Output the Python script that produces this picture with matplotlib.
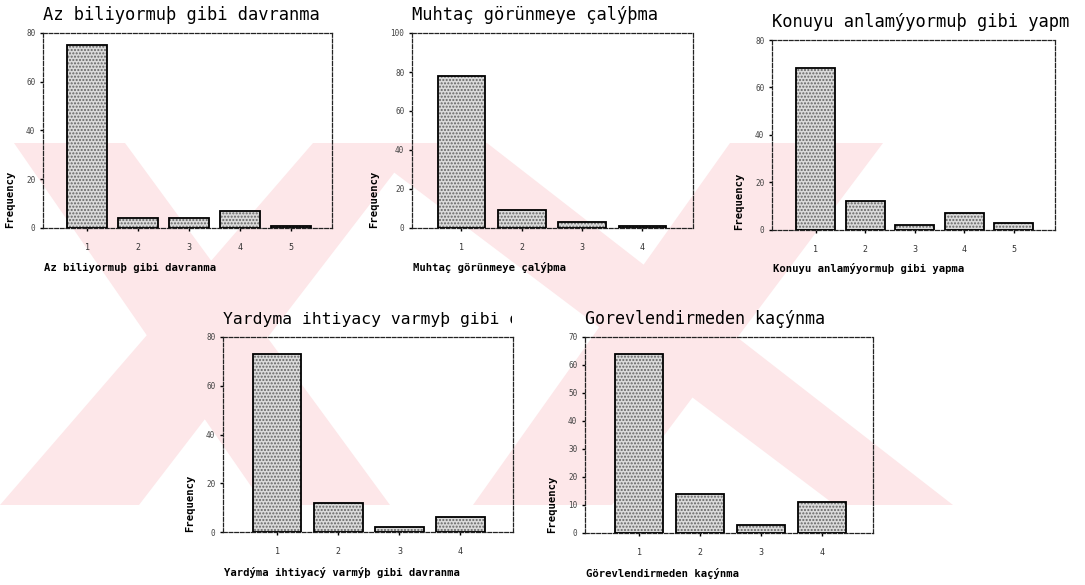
import matplotlib
matplotlib.use('Agg')
import matplotlib.pyplot as plt
from matplotlib.patches import Polygon
from matplotlib.transforms import Bbox, TransformedBbox

W, H = 1085, 585

# frequency tables, one per item
az_cats = ['1', '2', '3', '4', '5']
az_vals = [75, 4, 4, 7, 1]

muhtac_cats = ['1', '2', '3', '4']
muhtac_vals = [78, 9, 3, 1]

konu_cats = ['1', '2', '3', '4', '5']
konu_vals = [68, 12, 2, 7, 3]

yardim_cats = ['1', '2', '3', '4']
yardim_vals = [73, 12, 2, 6]

gorev_cats = ['1', '2', '3', '4']
gorev_vals = [64, 14, 3, 11]

titles = ['Az biliyormuþ gibi davranma',
          'Muhtaç görünmeye çalýþma',
          'Konuyu anlamýyormuþ gibi yapm',
          'Yardyma ihtiyacy varmyþ gibi d',
          'Gorevlendirmeden kaçýnma']
xlabels = ['Az biliyormuþ gibi davranma',
           'Muhtaç görünmeye çalýþma',
           'Konuyu anlamýyormuþ gibi yapma',
           'Yardýma ihtiyacý varmýþ gibi davranma',
           'Görevlendirmeden kaçýnma']

MONO = 'DejaVu Sans Mono'


def px_box(left, top, right, bottom):
    # pixel box (origin top-left) -> figure fraction rect
    return [left / W, 1 - bottom / H, (right - left) / W, (bottom - top) / H]


fig = plt.figure(figsize=(W / 100, H / 100), dpi=100)
fig.patch.set_facecolor('white')

# pale archive watermark: diagonal bars across the middle band
band_top, band_bot = 143, 505
stripes = [
    ((14, 125), (264, 390)),
    ((313, 417), (0, 139)),
    ((355, 487), (835, 953)),
    ((730, 883), (473, 612)),
]
for (t0, t1), (b0, b1) in stripes:
    pts = [(t0, band_top), (t1, band_top), (b1, band_bot), (b0, band_bot)]
    pts = [(x / W, 1 - y / H) for x, y in pts]
    fig.add_artist(Polygon(pts, closed=True, transform=fig.transFigure,
                           facecolor='#fde7e9', edgecolor='none', zorder=-10))

panels = [
    (px_box(43, 33, 332, 228), az_cats, az_vals, 80, 20, (0.13, 5.8), 12.3, None),
    (px_box(412, 33, 693, 228), muhtac_cats, muhtac_vals, 100, 20, (0.18, 4.84), 12.3, None),
    (px_box(772, 40, 1055, 230), konu_cats, konu_vals, 80, 20, (0.11, 5.84), 12.3, None),
    (px_box(223, 337, 513, 532), yardim_cats, yardim_vals, 80, 20, (0.11, 4.86), 11.8, 512),
    (px_box(585, 337, 873, 533), gorev_cats, gorev_vals, 70, 10, (0.11, 4.84), 12.0, None),
]

for i, (rect, cats, vals, ymax, ystep, xlim, tsize, clip_x) in enumerate(panels):
    ax = fig.add_axes(rect)
    ax.set_facecolor('none')
    x = list(range(1, len(cats) + 1))

    # stippled grey fill, then a hard black outline
    ax.bar(x, vals, width=0.79, color='#dadada', edgecolor='#646464',
           hatch='.....', linewidth=0, zorder=2)
    ax.bar(x, vals, width=0.79, fill=False, edgecolor='black',
           linewidth=1.3, zorder=3)

    ax.set_xlim(*xlim)
    ax.set_ylim(0, ymax)
    ax.set_xticks(x, cats)
    ax.set_yticks(range(0, ymax + 1, ystep))
    ax.tick_params(axis='x', length=2.5, width=1, pad=8, labelsize=6,
                   labelcolor='#333333')
    ax.tick_params(axis='y', length=2.5, width=1, pad=3, labelsize=5.5,
                   labelcolor='#444444')
    for tl in ax.get_xticklabels() + ax.get_yticklabels():
        tl.set_family(MONO)

    for sp in ax.spines.values():
        sp.set_linestyle((0, (3, 1.5)))
        sp.set_linewidth(0.9)
        sp.set_color('#222222')

    t = ax.set_title(titles[i], loc='left', pad=9.4, fontsize=tsize,
                     family=MONO, color='black')
    if clip_x is not None:
        # long title is cut at the frame edge
        t.set_clip_box(TransformedBbox(Bbox.from_extents(0, 0, clip_x / W, 1),
                                       fig.transFigure))
        t.set_clip_on(True)

    ax.set_xlabel(xlabels[i], loc='left', fontsize=7.6, family=MONO,
                  fontweight='bold', va='center')
    ax.xaxis.set_label_coords(0.005, -40 / 195)
    ax.set_ylabel('Frequency', loc='bottom', fontsize=7.6, family=MONO,
                  fontweight='bold', labelpad=8)

fig.savefig('out.png', dpi=100, facecolor='white')
